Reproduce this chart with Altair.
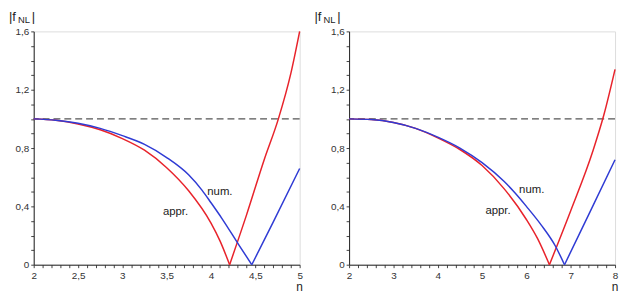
import altair as alt
import pandas as pd

# ---- data ----
# left panel (n from 2 to 5); branch 0 = falling part, 1 = rising part
nL_appr = [2.0, 2.25, 2.5, 2.75, 3.0, 3.25, 3.5, 3.75, 4.0, 4.1, 4.21, 4.21, 4.4, 4.6, 4.76, 4.9, 5.0]
fL_appr = [1.0, 0.99, 0.965, 0.925, 0.865, 0.785, 0.665, 0.505, 0.285, 0.165, 0.0, 0.0, 0.34, 0.72, 1.0, 1.31, 1.6]
bL_appr = [0, 0, 0, 0, 0, 0, 0, 0, 0, 0, 0, 1, 1, 1, 1, 1, 1]
nL_num = [2.0, 2.25, 2.5, 2.75, 3.0, 3.25, 3.5, 3.75, 3.9, 4.0, 4.12, 4.31, 4.46, 4.46, 4.7, 5.0]
fL_num = [1.0, 0.99, 0.97, 0.935, 0.885, 0.825, 0.735, 0.615, 0.51, 0.425, 0.32, 0.14, 0.0, 0.0, 0.29, 0.66]
bL_num = [0, 0, 0, 0, 0, 0, 0, 0, 0, 0, 0, 0, 0, 1, 1, 1]

# right panel (n from 2 to 8)
nR_appr = [2.0, 2.5, 3.0, 3.5, 4.0, 4.5, 5.0, 5.5, 6.0, 6.25, 6.52, 6.52, 7.0, 7.5, 7.75, 8.0]
fR_appr = [1.0, 0.995, 0.975, 0.935, 0.87, 0.79, 0.68, 0.52, 0.31, 0.18, 0.0, 0.0, 0.37, 0.78, 1.03, 1.34]
bR_appr = [0, 0, 0, 0, 0, 0, 0, 0, 0, 0, 0, 1, 1, 1, 1, 1]
nR_num = [2.0, 2.5, 3.0, 3.5, 4.0, 4.5, 5.0, 5.5, 5.75, 6.0, 6.34, 6.65, 6.86, 6.86, 7.4, 8.0]
fR_num = [1.0, 0.995, 0.975, 0.935, 0.875, 0.8, 0.7, 0.57, 0.49, 0.4, 0.27, 0.13, 0.0, 0.0, 0.34, 0.72]
bR_num = [0, 0, 0, 0, 0, 0, 0, 0, 0, 0, 0, 0, 0, 1, 1, 1]

# label positions (n, |f_NL|)
L_num_pos = (4.10, 0.50)
L_appr_pos = (3.60, 0.36)
R_num_pos = (6.12, 0.51)
R_appr_pos = (5.36, 0.37)

# axis ticks
L_xticks = [round(2 + 0.1 * i, 2) for i in range(31)]
R_xticks = [round(2 + 0.2 * i, 2) for i in range(31)]
yticks = [round(0.1 * i, 2) for i in range(17)]

RED = "#e8232b"
BLUE = "#2f3bd4"
FONT = "Liberation Sans"
W, H = 269, 236


def panel(n_a, f_a, b_a, n_n, f_n, b_n, xmax, xticks, major, num_pos, appr_pos, title_dx):
    xs = alt.Scale(domain=[2, xmax], nice=False, zero=False)
    ys = alt.Scale(domain=[0, 1.6], nice=False)
    m10 = int(round(major * 10))
    xlab = (f"round(datum.value*10) % {m10} == 0 ? "
            "replace(toString(round(datum.value*10)/10), '.', ',') : ''")
    ylab = ("round(datum.value*10) % 4 == 0 ? "
            "replace(toString(round(datum.value*10)/10), '.', ',') : ''")
    xaxis = alt.Axis(values=xticks, labelExpr=xlab, title=None, grid=False,
                     tickSize=3, tickColor="#444", domainColor="#222",
                     labelFont=FONT, labelFontSize=10, labelColor="#333",
                     labelPadding=3, labelFlush=False, labelOverlap=False)
    yaxis = alt.Axis(values=yticks, labelExpr=ylab, title=None, grid=False,
                     tickSize=3, tickColor="#444", domainColor="#222",
                     labelFont=FONT, labelFontSize=10, labelColor="#333",
                     labelPadding=2, labelOverlap=False)
    X = alt.X("n:Q", scale=xs, axis=xaxis)
    Y = alt.Y("f:Q", scale=ys, axis=yaxis)

    da = pd.DataFrame({"n": n_a, "f": f_a, "b": b_a})
    dn = pd.DataFrame({"n": n_n, "f": f_n, "b": b_n})

    red = alt.Chart(da).mark_line(color=RED, strokeWidth=1.5, interpolate="monotone").encode(
        x=X, y=Y, detail="b:N")
    blue = alt.Chart(dn).mark_line(color=BLUE, strokeWidth=1.5, interpolate="monotone").encode(
        x=X, y=Y, detail="b:N")
    dash = alt.Chart(pd.DataFrame({"f": [1.0]})).mark_rule(
        color="#555", strokeDash=[7, 4], strokeWidth=1.2).encode(y=Y)

    lab = pd.DataFrame({"n": [num_pos[0], appr_pos[0]],
                        "f": [num_pos[1], appr_pos[1]],
                        "t": ["num.", "appr."]})
    labels = alt.Chart(lab).mark_text(font=FONT, fontSize=11.5, color="#222").encode(
        x=X, y=Y, text="t:N")

    t1 = alt.Chart(pd.DataFrame({"t": ["|f"]})).mark_text(
        font=FONT, fontSize=13, align="left", baseline="alphabetic", color="#222").encode(
        text="t:N", x=alt.value(title_dx), y=alt.value(-11))
    t2 = alt.Chart(pd.DataFrame({"t": ["NL"]})).mark_text(
        font=FONT, fontSize=9.5, align="left", baseline="alphabetic", color="#222").encode(
        text="t:N", x=alt.value(title_dx + 9), y=alt.value(-8))
    t3 = alt.Chart(pd.DataFrame({"t": ["|"]})).mark_text(
        font=FONT, fontSize=13, align="left", baseline="alphabetic", color="#222").encode(
        text="t:N", x=alt.value(title_dx + 23), y=alt.value(-11))
    nlab = alt.Chart(pd.DataFrame({"t": ["n"]})).mark_text(
        font=FONT, fontSize=12, align="center", baseline="alphabetic", color="#222").encode(
        text="t:N", x=alt.value(W), y=alt.value(H + 27))

    return alt.layer(dash, red, blue, labels, t1, t2, t3, nlab).properties(
        width=W, height=H)


left = panel(nL_appr, fL_appr, bL_appr, nL_num, fL_num, bL_num, 5, L_xticks, 0.5,
             L_num_pos, L_appr_pos, -25)
right = panel(nR_appr, fR_appr, bR_appr, nR_num, fR_num, bR_num, 8, R_xticks, 1,
              R_num_pos, R_appr_pos, -35)

chart = alt.hconcat(left, right, spacing=50, bounds="flush").properties(
    padding={"left": 0, "top": 0, "right": 0, "bottom": 0}
).configure_view(stroke="#999", strokeWidth=1).configure_axis(
    labelOverlap=False, labelFlush=False
).configure(background="white")

chart.save("out.html", embed_options={"renderer": "svg", "actions": False})
